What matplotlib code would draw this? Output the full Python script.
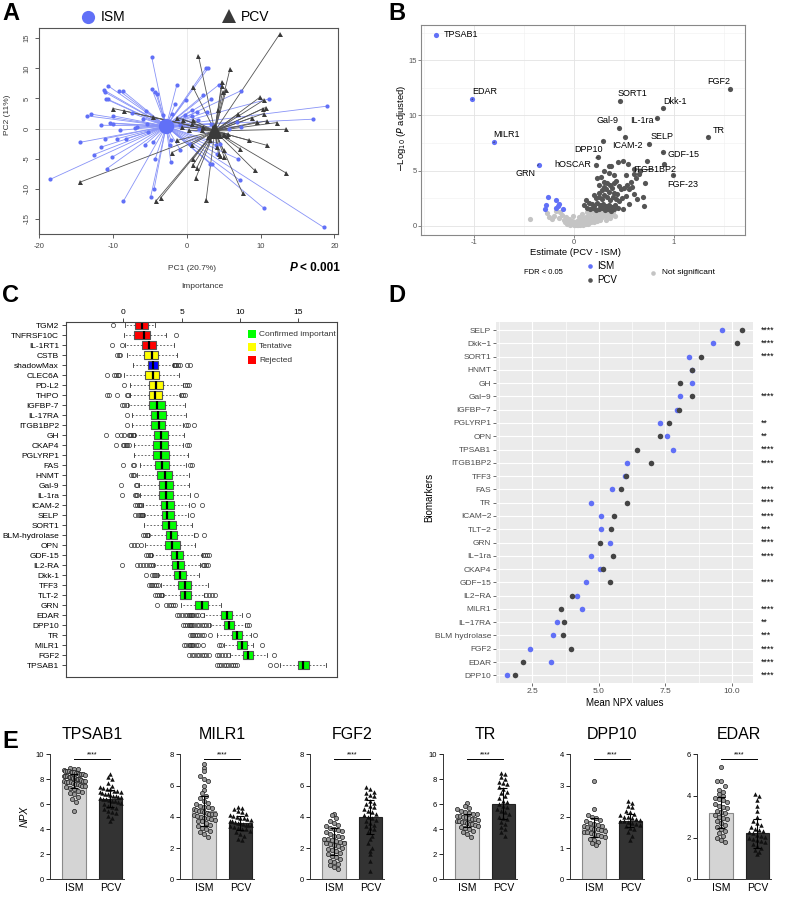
import numpy as np
import matplotlib
matplotlib.use('Agg')
import matplotlib.pyplot as plt
from matplotlib.patches import Rectangle
from matplotlib.lines import Line2D
from matplotlib.collections import LineCollection

plt.rcParams['font.family'] = ['Liberation Sans', 'DejaVu Sans']
plt.rcParams['axes.unicode_minus'] = False

W, H = 789, 897
BLUE = '#6170F7'
DARK = '#474747'

# ---------------- data: panel A (PCA) ----------------
ism_centroid = (-2.8, 0.4)
pcv_centroid = (3.8, -0.4)
ism_pc1 = [-18.55, -14.48, -13.48, -12.94, -12.62, -11.63, -11.58, -11.22, -11.04, -11.09,
           -10.95, -10.86, -10.68, -10.63, -10.41, -10.09, -9.95, -9.95, -9.41, -9.14,
           -9.05, -8.69, -8.6, -8.24, -7.47, -7.01, -6.79, -5.88, -5.66, -5.57,
           -5.43, -5.2, -4.89, -4.75, -4.71, -4.52, -4.43, -4.3, -4.25, -3.98,
           -3.26, -3.08, -2.26, -2.17, -2.17, -2.04, -1.58, -1.36, -0.9, -0.9,
           -0.23, -0.14, 0.45, 0.68, 0.68, 1.36, 1.49, 1.72, 2.26, 2.58,
           2.94, 2.71, 3.17, 3.4, 3.3, 3.3, 3.98, 4.07, 4.3, 4.52, 4.16,
           5.66, 6.79, 6.88, 7.24, 7.33, 7.38, 10.41, 11.18, 17.1, 19.0, 18.55]
ism_pc2 = [-8.44, -2.28, 2.11, 2.39, -4.33, 0.56, -3.06, 6.39, 6.0, -1.67,
           4.89, -6.67, 7.11, 4.83, 0.94, -4.72, 2.11, 0.83, -1.67, 6.28,
           -0.28, 6.28, -12.06, -1.67, 2.61, 0.17, 0.28, 1.67, -2.67, 2.89,
           0.83, -0.56, -11.28, 11.83, 6.5, -2.22, -10.0, -5.11, 6.11, 5.67,
           2.33, 0.83, -2.78, -5.56, -1.83, 2.5, 4.06, 7.22, -3.5, 0.56,
           2.22, 4.72, -2.61, 3.06, 2.11, 2.78, 1.5, 0.0, 5.56, 10.0,
           10.11, 2.78, -5.83, -5.9, 4.83, 0.72, -2.78, -4.17, 7.22, -2.61, -1.1,
           0.0, 1.11, -5.0, -8.61, 6.28, 0.28, -13.17, 4.94, 1.56, 3.72, -16.39]
pcv_pc1 = [-14.48, -9.95, -8.51, -4.62, -4.21, -3.53, -2.04, -1.27, -1.27, -0.63,
           -0.45, 0.23, 0.68, 0.81, 0.81, 0.9, 1.22, 1.36, 1.58, 0.68,
           0.9, 2.26, 2.62, 2.85, 3.08, 4.07, 4.21, 4.3, 4.52, 4.75,
           4.75, 4.84, 4.98, 5.07, 5.11, 5.34, 5.43, 5.84, 7.15, 6.92,
           7.56, 8.37, 8.82, 9.19, 9.86, 10.41, 10.41, 10.32, 10.68, 10.86,
           10.86, 9.5, 12.22, 12.58, 13.48, 13.48, 4.98, 3.6, 2.04, 4.2, 5.6, 3.3]
pcv_pc2 = [-8.89, 3.33, 2.94, 1.94, -12.06, -11.5, -4.0, -1.94, 1.83, 0.28,
           1.5, -0.28, -2.67, 6.94, -6.11, -5.0, -8.22, -6.5, 12.06, 0.83,
           1.39, 0.28, -11.83, -1.39, -1.94, -3.06, 3.06, -4.28, -4.61, 7.78,
           7.06, 6.11, -3.61, -4.72, -1.11, 6.39, -1.28, 9.83, -3.33, 2.39,
           -10.72, -1.94, 1.83, -6.94, 5.17, 4.72, 2.5, 3.33, 3.5, 1.28,
           -2.78, 1.1, 1.0, 15.67, -0.11, -7.39, -0.83, 0.3, -0.28, -1.2, -0.9, -0.6]

# ---------------- data: panel B (volcano) ----------------
b_ism_est = [-1.38, -1.017, -0.8, -0.353, -0.263, -0.283, -0.29, -0.18, -0.147, -0.18, -0.107, -0.16]
b_ism_logp = [17.25, 11.45, 7.55, 5.53, 2.6, 1.87, 1.48, 2.3, 1.93, 1.63, 1.51, 1.8]
b_pcv_est = [0.46, 0.89, 0.833, 0.453, 0.51, 0.747, 0.293, 0.243, 0.887, 0.603, 0.993, 1.557, 1.337,
             0.22, 0.35, 0.37, 0.44, 0.49, 0.54, 0.727, 0.9, 0.65, 0.6, 0.52, 0.71, 0.53, 0.63,
             0.69, 0.7, 0.49, 0.227, 0.3, 0.33, 0.36, 0.4, 0.42, 0.45, 0.47, 0.5, 0.55, 0.58,
             0.3, 0.28, 0.25, 0.32, 0.35, 0.38, 0.4, 0.43, 0.2, 0.22, 0.25, 0.28, 0.3, 0.33,
             0.36, 0.39, 0.42, 0.45, 0.48, 0.12, 0.15, 0.18, 0.2, 0.23, 0.26, 0.29, 0.32, 0.35,
             0.38, 0.41, 0.44, 0.1, 0.13, 0.16, 0.19, 0.22, 0.25, 0.28, 0.31, 0.34, 0.37, 0.4,
             0.55, 0.6, 0.52, 0.57, 0.62, 0.25, 0.27, 0.4, 0.35, 0.66, 0.3]
b_pcv_logp = [11.33, 10.63, 9.73, 8.82, 8.07, 7.4, 7.7, 6.2, 6.65, 5.14, 4.62, 12.36, 8.07,
              5.5, 5.4, 5.4, 5.74, 5.83, 5.56, 5.83, 5.62, 4.65, 4.7, 4.6, 3.9, 3.66, 2.39,
              2.57, 1.81, 1.5, 4.35, 4.0, 3.9, 3.7, 3.9, 4.1, 3.6, 3.3, 3.45, 3.3, 3.5,
              3.5, 3.2, 3.0, 3.3, 3.1, 3.4, 3.0, 2.9, 2.8, 2.5, 2.6, 2.4, 2.8, 2.6,
              2.3, 2.6, 2.4, 2.2, 2.5, 2.3, 2.1, 2.0, 1.8, 2.1, 1.9, 2.0, 1.8, 1.9,
              1.7, 1.9, 1.6, 1.9, 1.6, 1.5, 1.6, 1.4, 1.5, 1.6, 1.4, 1.5, 1.3, 1.5,
              2.0, 2.9, 2.7, 4.0, 4.3, 3.7, 4.4, 4.6, 4.8, 5.0, 5.0]
b_ns_est = [-0.443, -0.223, -0.267, -0.14, -0.2, -0.15, -0.12, -0.1, -0.08, -0.06, -0.05, -0.03,
            -0.02, 0.0, 0.0, 0.01, 0.02, 0.03, 0.04, 0.05, 0.06, 0.07, 0.08, 0.09, 0.1, 0.11,
            0.12, 0.13, 0.14, 0.15, 0.16, 0.17, 0.18, 0.19, 0.2, 0.21, 0.22, 0.23, 0.24, 0.25,
            0.26, 0.27, 0.28, 0.29, 0.3, 0.31, 0.32, 0.33, 0.35, 0.37, 0.39, 0.41, -0.04, -0.07,
            -0.09, 0.03, 0.06, 0.09, 0.12, 0.14, 0.17, 0.2, 0.23, 0.26, 0.18, 0.1, 0.05, -0.01,
            0.08, 0.13, -0.18, -0.25, 0.36, 0.32]
b_ns_logp = [0.6, 0.6, 1.15, 1.27, 0.9, 0.7, 1.0, 0.5, 0.8, 0.35, 0.6, 0.2,
             0.45, 0.1, 0.3, 0.05, 0.2, 0.4, 0.1, 0.25, 0.5, 0.15, 0.35, 0.6, 0.25, 0.45,
             0.8, 0.3, 0.55, 1.0, 0.4, 0.7, 1.2, 0.5, 0.85, 0.6, 1.1, 0.75, 0.9, 1.25,
             0.65, 1.0, 0.8, 1.15, 0.95, 1.3, 0.85, 1.1, 1.2, 1.0, 1.25, 0.9, 0.1, 0.2,
             0.3, 0.05, 0.05, 0.1, 0.15, 0.2, 0.3, 0.35, 0.45, 0.5, 0.55, 0.7, 0.75, 0.9,
             1.1, 1.2, 1.3, 0.75, 0.7, 0.55]
b_labels = ['TPSAB1', 'EDAR', 'MILR1', 'GRN', 'hOSCAR', 'DPP10', 'Gal-9', 'SORT1', 'ICAM-2',
            'IL-1ra', 'SELP', 'Dkk-1', 'GDF-15', 'ITGB1BP2', 'FGF-23', 'FGF2', 'TR']
b_lab_x = [-1.38, -1.017, -0.8, -0.353, 0.243, 0.293, 0.453, 0.46, 0.51,
           0.833, 0.747, 0.89, 0.887, 0.603, 0.993, 1.557, 1.337]
b_lab_y = [17.25, 11.45, 7.55, 5.53, 6.2, 7.7, 8.82, 11.33, 8.07,
           9.73, 7.4, 10.63, 6.65, 5.14, 4.62, 12.36, 8.07]
b_txt_x = [-1.13, -0.89, -0.673, -0.48, -0.007, 0.143, 0.337, 0.583, 0.533,
           0.677, 0.877, 1.01, 1.093, 0.81, 1.093, 1.443, 1.443]
b_txt_y = [17.34, 12.15, 8.25, 4.74, 5.59, 6.95, 9.52, 12.0, 7.25,
           9.52, 8.1, 11.3, 6.47, 5.08, 3.75, 13.1, 8.6]

# ---------------- data: panel C (Boruta importance) ----------------
c_names = ['TGM2', 'TNFRSF10C', 'IL-1RT1', 'CSTB', 'shadowMax', 'CLEC6A', 'PD-L2', 'THPO',
           'IGFBP-7', 'IL-17RA', 'ITGB1BP2', 'GH', 'CKAP4', 'PGLYRP1', 'FAS', 'HNMT', 'Gal-9',
           'IL-1ra', 'ICAM-2', 'SELP', 'SORT1', 'BLM-hydrolase', 'OPN', 'GDF-15', 'IL2-RA',
           'Dkk-1', 'TFF3', 'TLT-2', 'GRN', 'EDAR', 'DPP10', 'TR', 'MILR1', 'FGF2', 'TPSAB1']
c_status = ['Rejected'] * 3 + ['Tentative', 'Shadow', 'Tentative', 'Tentative', 'Tentative'] + ['Confirmed'] * 27
c_q1 = [1.0, 0.92, 1.57, 1.8, 2.09, 1.86, 2.17, 2.2, 2.23, 2.35, 2.4, 2.63, 2.57, 2.57, 2.74, 2.91, 3.09,
        3.09, 3.23, 3.29, 3.34, 3.63, 3.54, 4.09, 4.2, 4.34, 4.71, 4.89, 6.17, 8.4, 8.66, 9.34, 9.71, 10.29, 14.94]
c_med = [1.63, 1.77, 2.2, 2.43, 2.52, 2.52, 2.77, 2.7, 2.91, 3.0, 3.03, 3.23, 3.23, 3.23, 3.34, 3.54, 3.63,
         3.63, 3.77, 3.77, 3.94, 4.09, 4.2, 4.63, 4.71, 4.86, 5.29, 5.29, 6.71, 8.86, 9.09, 9.71, 10.14, 10.71, 15.43]
c_q3 = [2.1, 2.26, 2.77, 3.0, 2.95, 3.09, 3.37, 3.3, 3.54, 3.63, 3.6, 3.86, 3.8, 3.89, 3.94, 4.14, 4.29,
        4.29, 4.32, 4.32, 4.51, 4.63, 4.83, 5.14, 5.2, 5.34, 5.77, 5.77, 7.23, 9.34, 9.51, 10.17, 10.6, 11.14, 15.91]
c_lo = [0.15, 0.06, 0.15, 0.3, 0.8, 0.1, 0.57, 0.57, 0.43, 0.71, 0.71, 1.0, 0.94, 0.94, 1.43, 1.2, 1.37,
        1.43, 1.66, 1.77, 1.77, 2.2, 1.86, 2.43, 2.63, 2.97, 3.26, 3.4, 4.91, 6.95, 7.45, 8.06, 8.6, 9.1, 13.4]
c_hi = [2.7, 3.7, 4.37, 4.57, 4.23, 4.8, 5.14, 4.86, 5.29, 5.37, 5.09, 5.23, 5.1, 5.57, 5.37, 5.66, 5.66,
        5.71, 5.63, 5.57, 5.86, 6.09, 6.14, 6.71, 6.57, 6.51, 7.23, 6.94, 8.37, 10.2, 10.4, 10.9, 11.1, 12.3, 17.4]
c_out = [[-0.9], [4.5], [-1.0, -0.14], [-0.57, -0.4, -0.28],
         [4.35, 4.45, 4.55, 4.7, 4.85, 5.5, 5.7], [-1.4, -0.8, -0.6, -0.45, -0.35],
         [0.09, 5.3, 5.45, 5.6], [-1.35, -1.25, -0.5, 0.3, 0.4, 4.95, 5.1, 5.3],
         [-0.14, 0.1, 0.3], [0.35], [0.29, 5.4, 5.55, 6.1],
         [-1.5, -0.55, -0.2, 0.1, 0.5, 0.6, 0.7, 0.8, 0.9],
         [-0.6, 0.0, 0.1, 0.2, 0.35, 0.5, 5.5, 5.65], [],
         [0.0, 0.85, 0.95, 5.7, 5.9], [0.65, 0.8, 0.95], [-0.17, 1.05, 1.15],
         [-0.11, 1.0, 1.1, 1.2, 6.23], [1.0, 1.2, 1.35, 1.45, 1.55, 5.94, 6.71],
         [1.0, 1.25, 1.4, 1.5, 1.6, 1.7, 5.86], [],
         [1.7, 1.85, 2.0, 2.1, 6.23, 6.94], [0.63, 0.9, 1.15, 1.49],
         [1.95, 2.1, 2.25, 2.35, 6.85, 7.0, 7.15, 7.3],
         [-0.11, 1.2, 1.45, 1.7, 1.95, 2.2, 2.4, 2.55, 6.8, 6.95, 7.1, 7.25],
         [1.94, 2.45, 2.6, 2.75, 2.9], [2.2, 2.35, 2.5, 2.65, 2.8, 3.0],
         [2.75, 2.9, 3.05, 3.2, 3.35, 7.05, 7.3, 7.6, 7.85],
         [2.86, 3.7, 3.9, 4.1, 4.25, 4.4],
         [4.6, 4.8, 5.0, 5.3, 5.5, 5.6, 5.7, 5.8, 5.9, 6.0, 6.2, 6.4, 6.75, 10.7],
         [5.1, 5.3, 5.5, 5.6, 5.7, 5.8, 5.9, 6.1, 6.3, 6.5, 6.7, 6.9, 7.1, 7.35, 10.6, 10.75],
         [5.7, 5.85, 6.0, 6.15, 6.3, 6.5, 6.7, 6.9, 7.4, 11.3],
         [5.2, 5.4, 5.6, 5.7, 5.8, 5.9, 6.0, 6.2, 6.4, 6.8, 8.2, 8.35, 11.9],
         [5.65, 5.9, 6.1, 6.3, 6.5, 6.7, 6.9, 7.1, 7.35, 8.0, 8.2, 8.45, 8.7, 8.95, 12.9],
         [8.0, 8.2, 8.4, 8.6, 8.8, 9.0, 9.2, 9.4, 9.6, 9.77, 12.57, 13.1]]
c_colors = {'Confirmed': '#00FF00', 'Tentative': '#FFFF00', 'Rejected': '#FF0000', 'Shadow': '#0000FF'}

# ---------------- data: panel D (mean NPX) ----------------
d_names = ['SELP', 'Dkk\u22121', 'SORT1', 'HNMT', 'GH', 'Gal\u22129', 'IGFBP\u22127', 'PGLYRP1', 'OPN',
           'TPSAB1', 'ITGB1BP2', 'TFF3', 'FAS', 'TR', 'ICAM\u22122', 'TLT\u22122', 'GRN', 'IL\u22121ra',
           'CKAP4', 'GDF\u221215', 'IL2\u2212RA', 'MILR1', 'IL\u221217RA', 'BLM hydrolase', 'FGF2', 'EDAR', 'DPP10']
d_ism = [9.62, 9.3, 8.39, 8.5, 8.52, 8.05, 7.95, 7.3, 7.58, 7.8, 6.05, 6.0, 5.48, 4.71, 5.07, 5.1,
         5.41, 4.71, 5.05, 4.53, 4.19, 4.38, 3.43, 3.27, 2.4, 3.19, 1.56]
d_pcv = [10.37, 10.2, 8.84, 8.52, 8.05, 8.52, 8.0, 7.65, 7.31, 6.42, 6.96, 6.03, 5.83, 6.05, 5.58, 5.47,
         5.06, 5.55, 5.14, 5.42, 4.0, 3.59, 3.7, 3.64, 3.97, 2.16, 1.86]
d_sig = ['****', '****', '****', '', '', '****', '', '**', '**', '****', '****', '', '****', '****',
         '****', '***', '****', '****', '', '****', '', '****', '**', '***', '****', '****', '****']

# ---------------- data: panel E (NPX per group) ----------------
e_titles = ['TPSAB1', 'MILR1', 'FGF2', 'TR', 'DPP10', 'EDAR']
e_ymax = [10, 8, 8, 10, 4, 6]
e_ystep = [2, 2, 2, 2, 1, 2]
e_mean_ism = [7.85, 4.38, 2.42, 4.7, 1.65, 3.2]
e_mean_pcv = [6.45, 3.6, 4.0, 6.05, 1.88, 2.2]
e_sd_ism = [0.55, 0.95, 0.85, 0.55, 0.3, 0.75]
e_sd_pcv = [0.7, 0.45, 1.1, 1.25, 0.22, 0.7]
e_ism = [
    [8.9, 8.85, 8.8, 8.75, 8.7, 8.7, 8.65, 8.6, 8.6, 8.55, 8.5, 8.5, 8.45, 8.4, 8.4, 8.35, 8.3, 8.3,
     8.25, 8.2, 8.2, 8.15, 8.1, 8.1, 8.05, 8.0, 8.0, 7.95, 7.9, 7.9, 7.85, 7.8, 7.8, 7.75, 7.7, 7.65,
     7.6, 7.55, 7.5, 7.45, 7.4, 7.3, 7.2, 7.1, 7.0, 6.9, 6.8, 6.6, 6.4, 6.2, 5.45],
    [7.4, 7.1, 6.9, 6.6, 6.4, 6.3, 6.0, 5.7, 5.5, 5.3, 5.2, 5.0, 4.9, 4.8, 4.7, 4.65, 4.6, 4.55, 4.5,
     4.45, 4.4, 4.35, 4.3, 4.25, 4.2, 4.2, 4.15, 4.1, 4.05, 4.0, 3.95, 3.9, 3.85, 3.8, 3.75, 3.7, 3.6,
     3.5, 3.4, 3.3, 3.2, 3.1, 3.0, 2.9, 2.7],
    [4.2, 4.1, 3.9, 3.7, 3.6, 3.5, 3.4, 3.3, 3.2, 3.15, 3.1, 3.0, 2.9, 2.8, 2.75, 2.7, 2.6, 2.55, 2.5,
     2.45, 2.4, 2.35, 2.3, 2.25, 2.2, 2.1, 2.0, 1.95, 1.9, 1.8, 1.7, 1.6, 1.5, 1.4, 1.3, 1.2, 1.1, 1.0,
     0.9, 0.8, 0.65],
    [6.1, 5.9, 5.7, 5.6, 5.5, 5.4, 5.3, 5.25, 5.2, 5.1, 5.05, 5.0, 4.95, 4.9, 4.85, 4.8, 4.75, 4.7,
     4.65, 4.6, 4.55, 4.5, 4.45, 4.4, 4.35, 4.3, 4.2, 4.1, 4.0, 3.9, 3.8, 3.6, 3.4],
    [3.15, 2.25, 2.05, 2.0, 1.95, 1.9, 1.85, 1.8, 1.78, 1.75, 1.72, 1.7, 1.68, 1.65, 1.62, 1.6, 1.58,
     1.55, 1.52, 1.5, 1.48, 1.45, 1.42, 1.4, 1.35, 1.3, 1.25, 1.2, 1.15, 1.1],
    [5.4, 4.7, 4.7, 4.5, 4.3, 4.2, 4.1, 4.0, 3.9, 3.85, 3.8, 3.7, 3.6, 3.5, 3.45, 3.4, 3.3, 3.25, 3.2,
     3.1, 3.0, 2.95, 2.9, 2.8, 2.7, 2.6, 2.5, 2.4, 2.3, 2.2, 2.1, 2.0, 1.9, 1.8],
]
e_pcv = [
    [8.4, 8.2, 8.0, 7.7, 7.5, 7.4, 7.3, 7.25, 7.2, 7.1, 7.05, 7.0, 6.95, 6.9, 6.85, 6.8, 6.75, 6.7,
     6.65, 6.6, 6.55, 6.5, 6.45, 6.4, 6.35, 6.3, 6.25, 6.2, 6.1, 6.0, 5.9, 5.8, 5.7, 5.6, 5.5, 5.4,
     5.3, 5.1, 4.9, 4.7],
    [4.6, 4.55, 4.5, 4.4, 4.3, 4.2, 4.1, 4.05, 4.0, 3.95, 3.9, 3.85, 3.8, 3.75, 3.7, 3.65, 3.6, 3.6,
     3.55, 3.5, 3.5, 3.45, 3.4, 3.35, 3.3, 3.25, 3.2, 3.1, 3.0, 2.9, 2.8, 2.6, 2.5],
    [5.9, 5.8, 5.6, 5.5, 5.4, 5.3, 5.2, 5.0, 4.9, 4.8, 4.7, 4.6, 4.5, 4.4, 4.3, 4.2, 4.1, 4.0, 3.9,
     3.8, 3.7, 3.6, 3.5, 3.4, 3.3, 3.2, 3.0, 2.8, 2.6, 2.3, 2.0, 1.8, 1.6, 1.2, 0.55],
    [8.5, 8.4, 8.2, 8.0, 7.8, 7.7, 7.6, 7.4, 7.2, 7.0, 6.9, 6.7, 6.5, 6.3, 6.2, 6.0, 5.9, 5.8, 5.6,
     5.5, 5.4, 5.2, 5.0, 4.9, 4.8, 4.6, 4.4, 4.2, 4.0, 3.8, 3.5],
    [2.5, 2.45, 2.35, 2.3, 2.2, 2.15, 2.1, 2.05, 2.0, 1.98, 1.95, 1.92, 1.9, 1.88, 1.85, 1.82, 1.8,
     1.78, 1.75, 1.7, 1.65, 1.6, 1.5, 1.4, 1.25],
    [4.1, 4.0, 3.8, 3.5, 3.3, 3.0, 2.8, 2.7, 2.6, 2.5, 2.4, 2.35, 2.3, 2.25, 2.2, 2.15, 2.1, 2.05,
     2.0, 1.95, 1.9, 1.85, 1.8, 1.7, 1.6, 1.5, 1.4, 1.3, 1.2],
]


def box(l, t, r, b):
    return [l / W, 1 - b / H, (r - l) / W, (b - t) / H]


def ftext(x, y, s, **kw):
    fig.text(x / W, 1 - y / H, s, **kw)


def fmark(x, y, **kw):
    fig.add_artist(Line2D([x / W], [1 - y / H], transform=fig.transFigure, linestyle='none', **kw))


def swarm(values, center, step, halfw):
    # simple row-binned beeswarm layout
    v = np.asarray(values, float)
    rows = np.round(v / step).astype(int)
    xs = np.zeros_like(v)
    for r in np.unique(rows):
        idx = np.where(rows == r)[0]
        n = len(idx)
        dx = 0.11 if n < 2 else min(0.11, 2 * halfw / (n - 1))
        xs[idx] = center + (np.arange(n) - (n - 1) / 2) * dx
    return xs


fig = plt.figure(figsize=(W / 100, H / 100), dpi=100)

# panel letters
for lab, x, y in [('A', 2, 2), ('B', 388, 2), ('C', 2, 284), ('D', 388, 284), ('E', 2, 730)]:
    ftext(x, y, lab, fontsize=17, fontweight='bold', va='top', ha='left')

# ================= A =================
axA = fig.add_axes(box(39.3, 28, 338, 234))
axA.set_xlim(-20, 20.5)
axA.set_ylim(-17.5, 16.7)
axA.axhline(0, color='#e8e8e8', lw=0.6, zorder=0)
axA.axvline(0, color='#e8e8e8', lw=0.6, zorder=0)
segs = [[ism_centroid, (x, y)] for x, y in zip(ism_pc1, ism_pc2)]
axA.add_collection(LineCollection(segs, colors='#8893f7', linewidths=0.6, zorder=1))
segs = [[pcv_centroid, (x, y)] for x, y in zip(pcv_pc1, pcv_pc2)]
axA.add_collection(LineCollection(segs, colors='#555555', linewidths=0.6, zorder=1))
axA.plot(ism_pc1, ism_pc2, 'o', color=BLUE, ms=3.0, mew=0, zorder=3)
axA.plot(pcv_pc1, pcv_pc2, '^', color='#3a3a3a', ms=3.6, mew=0, zorder=3)
axA.plot(*ism_centroid, 'o', color=BLUE, ms=11, mew=0, zorder=4)
axA.plot(*pcv_centroid, '^', color='#3a3a3a', ms=11, mew=0, zorder=4)
axA.set_xticks([-20, -10, 0, 10, 20])
axA.set_yticks([-15, -10, -5, 0, 5, 10, 15])
axA.tick_params(labelsize=5.5, length=3, width=0.6, colors='#444444')
for t in axA.get_yticklabels():
    t.set_rotation(90)
    t.set_va('center')
for s in axA.spines.values():
    s.set_color('#555555')
    s.set_linewidth(0.8)
ftext(192, 269, 'PC1 (20.7%)', fontsize=6, ha='center', va='center', color='#333333')
ftext(8, 115, 'PC2 (11%)', fontsize=6, ha='center', va='center', rotation=90, color='#333333')
ftext(298, 268, 'P', fontsize=8.5, fontweight='bold', style='italic', ha='right', va='center')
ftext(300, 268, '< 0.001', fontsize=8.5, fontweight='bold', ha='left', va='center')
fmark(88, 17, marker='o', color=BLUE, ms=9.5, mew=0)
ftext(101, 17, 'ISM', fontsize=10, va='center')
fmark(229, 16, marker='^', color='#3a3a3a', ms=9.5, mew=0)
ftext(241, 17, 'PCV', fontsize=10, va='center')

# ================= B =================
axB = fig.add_axes(box(420.7, 25, 745, 235))
axB.set_xlim(-1.53, 1.71)
axB.set_ylim(-0.84, 18.2)
axB.set_xticks([-1, 0, 1])
axB.set_xticks([-1.5, -0.5, 0.5, 1.5], minor=True)
axB.set_yticks([0, 5, 10, 15])
axB.set_yticks([2.5, 7.5, 12.5, 17.5], minor=True)
axB.grid(True, which='major', color='#e3e3e3', lw=0.6)
axB.grid(True, which='minor', color='#f0f0f0', lw=0.4)
axB.set_axisbelow(True)
axB.tick_params(which='minor', length=0)
axB.tick_params(which='major', labelsize=5.5, length=2, width=0.5, colors='#555555', pad=1)
for s in axB.spines.values():
    s.set_color('#888888')
    s.set_linewidth(0.8)
axB.scatter(b_ns_est, b_ns_logp, s=14, color='#c4c4c4', linewidths=0, zorder=2)
axB.scatter(b_pcv_est, b_pcv_logp, s=14, color='#555555', linewidths=0, zorder=3)
axB.scatter(b_ism_est, b_ism_logp, s=14, color=BLUE, linewidths=0, zorder=3)
for name, x, y, tx, ty in zip(b_labels, b_lab_x, b_lab_y, b_txt_x, b_txt_y):
    arrow = None if name == 'TPSAB1' else dict(arrowstyle='-', lw=0.6, color='#333333',
                                                 shrinkA=1, shrinkB=2)
    axB.annotate(name, xy=(x, y), xytext=(tx, ty), fontsize=6.5, ha='center', va='center',
                 arrowprops=arrow, zorder=4)
ftext(575, 252, 'Estimate (PCV - ISM)', fontsize=6.8, ha='center', va='center')
ftext(401, 128, r'$-$Log$_{10}$ ($P$ adjusted)', fontsize=6.8, ha='center', va='center',
      rotation=90)
ftext(543, 273, 'FDR < 0.05', fontsize=5.5, ha='center', va='center')
fmark(590, 266, marker='o', color=BLUE, ms=3.3, mew=0)
ftext(597, 266, 'ISM', fontsize=7, va='center')
fmark(590, 280, marker='o', color='#555555', ms=3.3, mew=0)
ftext(597, 280, 'PCV', fontsize=7, va='center')
fmark(653, 273, marker='o', color='#c4c4c4', ms=3.3, mew=0)
ftext(662, 273, 'Not significant', fontsize=6, va='center')

# ================= C =================
axC = fig.add_axes(box(66, 322, 337, 677))
n = len(c_names)
stats = []
for i in range(n):
    stats.append(dict(med=c_med[i], q1=c_q1[i], q3=c_q3[i], whislo=c_lo[i], whishi=c_hi[i],
                      fliers=c_out[i], label=c_names[i]))
pos = list(range(n, 0, -1))
bp = axC.bxp(stats, positions=pos, widths=0.75, orientation='horizontal', patch_artist=True,
             capwidths=0.35,
             boxprops=dict(edgecolor='#555555', linewidth=0.8),
             medianprops=dict(color='black', linewidth=1.6),
             whiskerprops=dict(color='#333333', linewidth=0.5, linestyle=(0, (2.5, 2.5))),
             capprops=dict(color='#333333', linewidth=0.6),
             flierprops=dict(marker='o', mfc='none', mec='#333333', ms=3, mew=0.5))
for patch, st in zip(bp['boxes'], c_status):
    patch.set_facecolor(c_colors[st])
axC.set_xlim(-4.9, 18.3)
axC.set_ylim(-0.2, n + 0.3)
axC.set_yticks(pos)
axC.set_yticklabels(c_names)
axC.xaxis.tick_top()
axC.set_xticks([0, 5, 10, 15])
axC.tick_params(axis='y', labelsize=6, length=3, width=0.5, pad=2)
axC.tick_params(axis='x', labelsize=6, length=3, width=0.5, pad=1)
for s in axC.spines.values():
    s.set_color('#444444')
    s.set_linewidth(0.8)
ftext(202, 286, 'Importance', fontsize=6, ha='center', va='center', color='#333333')
for k, (lab, key) in enumerate([('Confirmed important', 'Confirmed'), ('Tentative', 'Tentative'),
                                 ('Rejected', 'Rejected')]):
    y = 334 + 13 * k
    fig.add_artist(Rectangle((248 / W, 1 - (y + 4) / H), 8 / W, 8 / H, transform=fig.transFigure,
                             facecolor=c_colors[key], edgecolor='none'))
    ftext(259, y, lab, fontsize=6, va='center', color='#333333')

# ================= D =================
axD = fig.add_axes(box(496, 321.7, 753.3, 683.3))
m = len(d_names)
ypos = np.arange(m)[::-1]
axD.set_facecolor('#EBEBEB')
axD.set_xlim(1.135, 10.81)
axD.set_ylim(-0.6, m - 1 + 0.625)
axD.set_xticks([2.5, 5.0, 7.5, 10.0])
axD.set_xticklabels(['2.5', '5.0', '7.5', '10.0'])
axD.set_xticks([1.25, 3.75, 6.25, 8.75], minor=True)
axD.set_yticks(ypos)
axD.set_yticklabels(d_names)
axD.grid(True, which='major', color='white', lw=0.8)
axD.grid(True, which='minor', axis='x', color='white', lw=0.5)
axD.set_axisbelow(True)
for s in axD.spines.values():
    s.set_visible(False)
axD.tick_params(which='minor', length=0)
axD.tick_params(which='major', labelsize=6, length=2, width=0.5, colors='#333333',
                labelcolor='#4D4D4D', pad=1.5)
axD.scatter(d_ism, ypos, s=16, color=BLUE, linewidths=0, zorder=3)
axD.scatter(d_pcv, ypos, s=16, color='#444444', linewidths=0, zorder=3)
for y, s in zip(ypos, d_sig):
    axD.text(1.03, y, s, transform=axD.get_yaxis_transform(), fontsize=6.3, va='center', ha='left')
axD.set_xlabel('Mean NPX values', fontsize=7, labelpad=2)
ftext(429, 497, 'Biomarkers', fontsize=7, rotation=90, ha='center', va='center')

# ================= E =================
e_left = [50, 180, 310, 443, 570, 697]
for i in range(6):
    ax = fig.add_axes(box(e_left[i], 754.3, e_left[i] + 74, 879.3))
    ym = e_ymax[i]
    ax.set_xlim(-0.67, 1.38)
    ax.set_ylim(0, ym)
    ax.bar([0, 1], [e_mean_ism[i], e_mean_pcv[i]], width=0.65, color=['#d4d4d4', '#333333'],
           edgecolor=['#8a8a8a', '#222222'], linewidth=0.8, zorder=1)
    xs = swarm(e_ism[i], 0, ym * 0.045, 0.29)
    ax.plot(xs, e_ism[i], 'o', ms=3.0, mfc='#9a9a9a', mec='#1a1a1a', mew=0.5, zorder=2, clip_on=False)
    xs = swarm(e_pcv[i], 1, ym * 0.045, 0.29)
    ax.plot(xs, e_pcv[i], '^', ms=3.2, color='#111111', mew=0, zorder=2, clip_on=False)
    ax.errorbar([0, 1], [e_mean_ism[i], e_mean_pcv[i]], yerr=[e_sd_ism[i], e_sd_pcv[i]], fmt='none',
                ecolor='black', elinewidth=0.8, capsize=3, capthick=0.8, zorder=3)
    h = ym * 0.96
    ax.plot([0, 1], [h, h], color='black', lw=0.7, clip_on=False)
    ax.text(0.5, h + ym * 0.005, '****', fontsize=5, ha='center', va='bottom')
    ax.set_yticks(np.arange(0, ym + 0.01, e_ystep[i]))
    ax.set_xticks([0, 1])
    ax.set_xticklabels(['ISM', 'PCV'], fontsize=7.5)
    ax.tick_params(axis='x', length=0, pad=3)
    ax.tick_params(axis='y', labelsize=5.5, length=3, width=0.6, pad=1.5)
    for s in ['top', 'right']:
        ax.spines[s].set_visible(False)
    for s in ['left', 'bottom']:
        ax.spines[s].set_linewidth(0.7)
        ax.spines[s].set_color('#333333')
    ax.text(0.5, 1.16, e_titles[i], transform=ax.get_xaxis_transform(), fontsize=11.5,
            ha='center', va='center')
    if i == 0:
        ax.set_ylabel('NPX', fontsize=7.5, style='italic', labelpad=4)

fig.savefig('out.png', dpi=100)
